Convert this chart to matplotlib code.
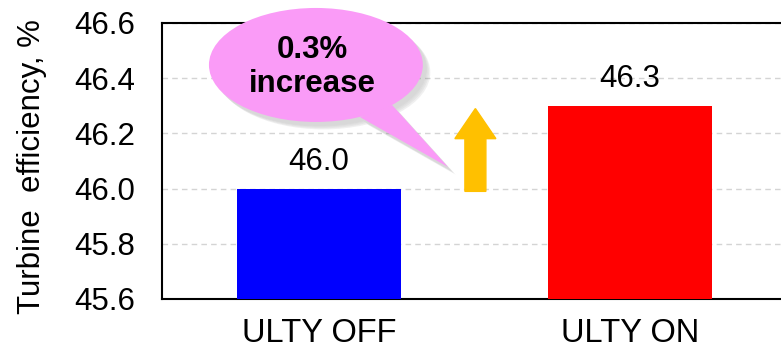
import matplotlib.pyplot as plt
from matplotlib.patches import Ellipse, Polygon, FancyArrow

plt.rcParams['font.family'] = ['Liberation Sans', 'DejaVu Sans']

categories = ['ULTY OFF', 'ULTY ON']
efficiency = [46.0, 46.3]
bar_colors = ['#0000FF', '#FF0000']
value_labels = ['46.0', '46.3']
yticks = [45.6, 45.8, 46.0, 46.2, 46.4, 46.6]

fig = plt.figure(figsize=(7.81, 3.51), dpi=100)
ax = fig.add_axes([162 / 781, 52 / 351, 619 / 781, 276 / 351])

x = list(range(len(categories)))
ax.bar(x, [v - 45.6 for v in efficiency], bottom=45.6, width=0.527,
       color=bar_colors, zorder=3)

for xi, v, lab in zip(x, efficiency, value_labels):
    ax.annotate(lab, (xi, v), xytext=(0, 13.5), textcoords='offset points',
                ha='center', va='baseline', fontsize=22.5)

ax.set_xlim(-0.505, 1.486)
ax.set_ylim(45.6, 46.6)
ax.set_yticks(yticks)
ax.set_yticklabels([f'{t:.1f}' for t in yticks], fontsize=22.5)
ax.set_xticks(x)
ax.set_xticklabels(categories, fontsize=23.5)
ax.tick_params(axis='y', length=0, pad=19)
ax.tick_params(axis='x', length=0, pad=14)

ax.yaxis.grid(True, color='#d4d4d4', linestyle=(0, (4, 3)), linewidth=1, zorder=0)
for s in ['left', 'top', 'bottom']:
    ax.spines[s].set_linewidth(1.5)
ax.spines['right'].set_visible(False)

ax.set_ylabel('Turbine  efficiency, %', fontsize=22.5)
ax.yaxis.set_label_coords(-0.186, 0.48)

# up arrow between bars
ax.add_patch(FancyArrow(0.503, 45.99, 0, 0.30, width=0.0675, head_width=0.132,
                        head_length=0.109, length_includes_head=True,
                        color='#FFC000', zorder=4, clip_on=False))

# callout bubble with soft shadow
cx, cy, cw, ch = -0.01, 46.448, 0.688, 0.413
tail = [(0.132, 46.259), (0.235, 46.303), (0.415, 46.078)]
for k, a in enumerate([0.06, 0.06, 0.08, 0.10]):
    dx, dy = 0.012 + 0.004 * k, -0.015 - 0.004 * k
    ax.add_patch(Ellipse((cx + dx, cy + dy), cw, ch, color='#707070', alpha=a,
                         lw=0, zorder=5, clip_on=False))
    ax.add_patch(Polygon([(px + dx, py + dy) for px, py in tail], color='#707070',
                         alpha=a, lw=0, zorder=5, clip_on=False))
ax.add_patch(Ellipse((cx, cy), cw, ch, color='#FA9BF7', lw=0, zorder=6, clip_on=False))
ax.add_patch(Polygon(tail, color='#FA9BF7', lw=0, zorder=6, clip_on=False))
ax.text(-0.02, 46.44, '0.3%\nincrease', ha='center', va='center', fontsize=22.5,
        fontweight='bold', linespacing=1.2, zorder=7)

fig.savefig('out.png', dpi=100)
